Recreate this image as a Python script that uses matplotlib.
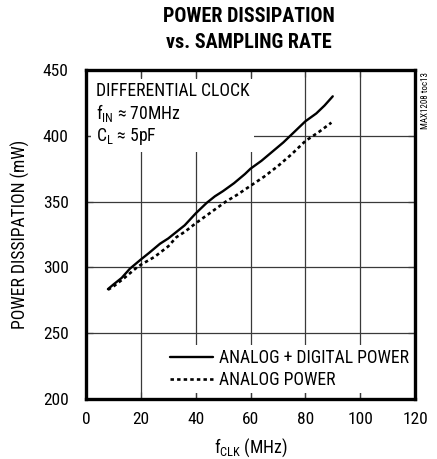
import matplotlib
matplotlib.use("Agg")
import matplotlib.pyplot as plt

FONT = "Roboto Condensed"
plt.rcParams['font.family'] = [FONT, 'DejaVu Sans']
plt.rcParams['mathtext.fontset'] = 'custom'
plt.rcParams['mathtext.rm'] = FONT
plt.rcParams['mathtext.it'] = FONT
plt.rcParams['mathtext.default'] = 'regular'

# Data
solid_x = [8, 10, 13, 16, 20, 23, 27, 30, 33, 36, 40, 44, 47, 50, 54, 58, 60, 64, 68, 72, 75, 78, 80, 84, 87, 90]
solid_y = [283.5, 287, 292, 299, 306, 311, 318, 322, 327, 332, 341, 349, 354, 358, 364, 371, 375, 381, 388, 395, 401, 407, 411, 417, 423, 430]
dash_x = [8, 10, 14, 18, 20, 25, 30, 33, 36, 40, 45, 51, 55, 60, 65, 70, 75, 80, 85, 89.5]
dash_y = [283, 285.5, 292, 299, 302, 308, 316, 323, 327, 333.5, 341, 350, 355, 362, 369, 377, 386, 396, 403, 410]
x_ticks = [0, 20, 40, 60, 80, 100, 120]
y_ticks = [200, 250, 300, 350, 400, 450]
labels = ["ANALOG + DIGITAL POWER", "ANALOG POWER"]

fig = plt.figure(figsize=(4.37, 4.59), dpi=100)
ax = fig.add_axes([86/437, 1-399/459, (415-86)/437, (399-70)/459])

ax.plot(solid_x, solid_y, color='black', lw=1.7, label=labels[0], zorder=3,
        solid_capstyle='round')
ax.plot(dash_x, dash_y, color='black', lw=1.9, ls=(0, (1.3, 1.2)), label=labels[1], zorder=3)

ax.set_xlim(0, 120)
ax.set_ylim(200, 450)
ax.set_xticks(x_ticks)
ax.set_yticks(y_ticks)
ax.grid(True, color='#3a3a3a', lw=0.9)
ax.set_axisbelow(False)
ax.tick_params(direction='in', length=5, width=0.9, color='#3a3a3a',
               top=True, right=True, labelsize=12.5)
ax.tick_params(axis='x', pad=9)
ax.tick_params(axis='y', pad=12.5)
for s in ax.spines.values():
    s.set_linewidth(2.4)
    s.set_zorder(5)

ax.text(0.03, 0.965,
        "DIFFERENTIAL CLOCK\n$\\mathregular{f_{IN}}$ ≈ 70MHz\n$\\mathregular{C_{L}}$ ≈ 5pF",
        transform=ax.transAxes, ha='left', va='top', fontsize=12.7, linespacing=1.15,
        bbox=dict(facecolor='white', edgecolor='none', pad=3.5), zorder=2.6)

leg = ax.legend(loc='lower right', bbox_to_anchor=(0.995, 0.017), frameon=True,
                fontsize=12.7, handlelength=2.4, handletextpad=0.35, borderpad=0.25,
                labelspacing=0.2, borderaxespad=0, fancybox=False)
leg.set_zorder(2.6)
leg.get_frame().set_facecolor('white')
leg.get_frame().set_edgecolor('none')
leg.get_frame().set_alpha(1)

fig.text(249/437, 1-17/459, "POWER DISSIPATION", ha='center', va='center',
         fontsize=14.5, fontweight='heavy')
fig.text(249/437, 1-42/459, "vs. SAMPLING RATE", ha='center', va='center',
         fontsize=14.5, fontweight='heavy')
ax.set_xlabel("$\\mathregular{f_{CLK}}$ (MHz)", fontsize=12.7, labelpad=7.5)
ax.set_ylabel("POWER DISSIPATION (mW)", fontsize=12.7, labelpad=9)
fig.text(425/437, 1-72/459, "MAX1208 toc13", rotation=90, ha='center', va='top',
         fontsize=6.5)

fig.savefig("out.png", dpi=100)
